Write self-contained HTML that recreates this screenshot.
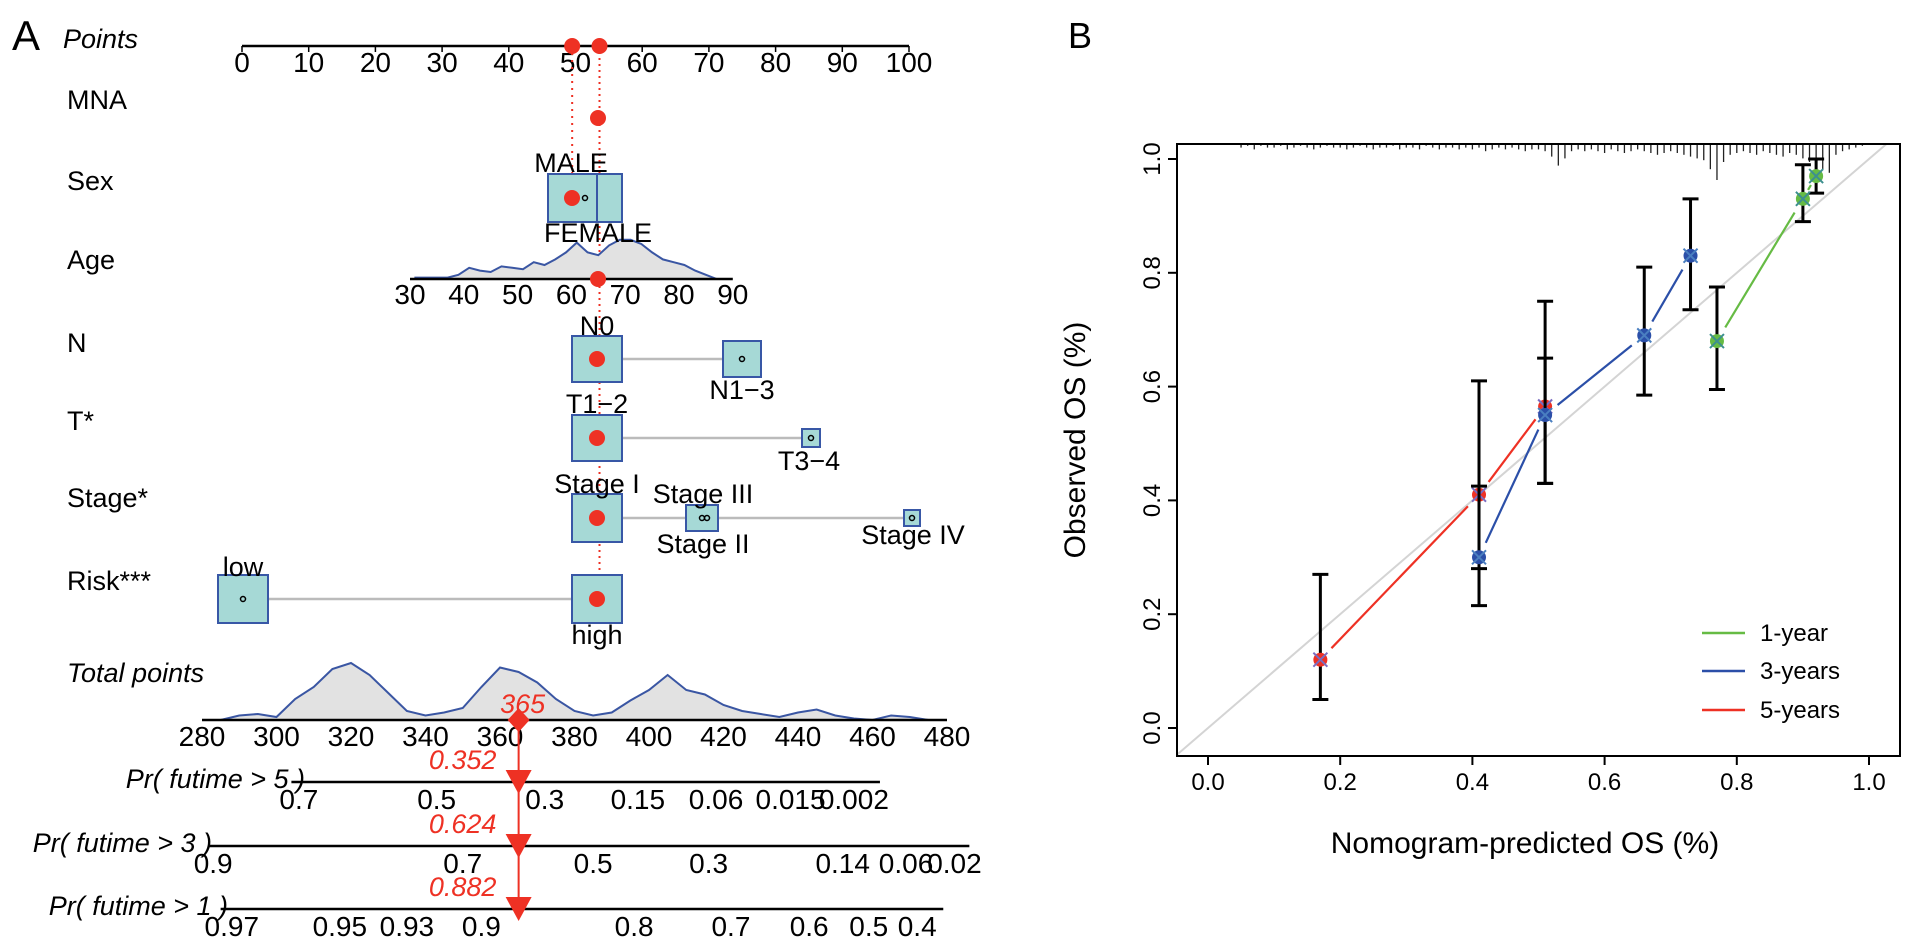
<!DOCTYPE html>
<html><head><meta charset="utf-8">
<style>
html,body{margin:0;padding:0;background:#fff;}
svg{display:block;font-family:"Liberation Sans",sans-serif;}
</style></head>
<body>
<svg id="fig" width="1913" height="948" viewBox="0 0 1913 948" xmlns="http://www.w3.org/2000/svg">
<g id="pa"></g>
<g id="pb"></g>
</svg>
<script>
// ---------- Panel A data ----------
const pointTicks = [0,10,20,30,40,50,60,70,80,90,100];
const ageTicks = [30,40,50,60,70,80,90];
const ageDensX = [31,33,35,37,39,41,43,45,47,49,51,53,55,57,59,61,63,65,67,69,71,73,75,77,79,81,83,85,87];
const ageDensY = [1,1,1,1,3,8,6,5,9,8,7,12,10,14,19,26,19,17,24,28,28,25,19,14,12,10,6,3,0];
const totalTicks = [280,300,320,340,360,380,400,420,440,460,480];
const totalDensX = [285,290,295,300,305,310,315,320,325,330,335,340,345,350,355,360,365,370,375,380,385,390,395,400,405,410,415,420,425,430,435,440,445,450,455,460,465,470,475];
const totalDensY = [0,3,4,2,14,22,34,38,30,18,6,3,5,8,22,35,32,25,14,6,3,5,13,20,30,20,17,10,6,4,2,5,7,3,1,0,3,2,0];
const totalValue = 365;
const pr5Labels = ["0.7","0.5","0.3","0.15","0.06","0.015","0.002"];
const pr5Pts = [306,343,372,397,418,438,455];
const pr3Labels = ["0.9","0.7","0.5","0.3","0.14","0.06","0.02"];
const pr3Pts = [283,350,385,416,452,469,482];
const pr1Labels = ["0.97","0.95","0.93","0.9","0.8","0.7","0.6","0.5","0.4"];
const pr1Pts = [288,317,335,355,396,422,443,459,472];
const probValues = ["0.352","0.624","0.882"];

// ---------- Panel B data ----------
const xTicksB = [0,0.2,0.4,0.6,0.8,1.0];
const yTicksB = [0,0.2,0.4,0.6,0.8,1.0];
const pred1 = [0.77,0.90,0.92], obs1 = [0.68,0.93,0.97], lo1 = [0.595,0.89,0.94], hi1 = [0.775,0.99,1.0];
const pred3 = [0.41,0.51,0.66,0.73], obs3 = [0.30,0.55,0.69,0.83], lo3 = [0.215,0.43,0.585,0.735], hi3 = [0.425,0.65,0.81,0.93];
const pred5 = [0.17,0.41,0.51], obs5 = [0.12,0.41,0.565], lo5 = [0.05,0.28,0.43], hi5 = [0.27,0.61,0.75];
const rugStart = 0.05;
const rugCounts = [2,1,3,1,2,2,1,3,2,1,2,3,2,1,2,2,3,2,1,2,3,2,2,1,3,2,2,3,1,2,3,2,2,3,2,3,2,4,3,2,3,2,3,4,3,3,4,7,12,8,4,3,4,3,4,5,3,4,5,4,3,4,5,6,5,4,5,6,7,8,9,14,20,10,6,5,4,5,6,4,5,6,7,5,6,8,10,12,14,16,6,4,3,2,1];

const NS = "http://www.w3.org/2000/svg";
function mk(parent, tag, attrs, text){
  const e = document.createElementNS(NS, tag);
  for (const k in attrs) e.setAttribute(k, attrs[k]);
  if (text !== undefined) e.textContent = text;
  parent.appendChild(e);
  return e;
}
const A = document.getElementById('pa');
const B = document.getElementById('pb');

const px = p => 242 + p * 6.67;
const ax = a => 410 + (a - 30) * 5.38;
const tx = t => 202 + (t - 280) * 3.725;
const FS = 27;
const TFS = 28;
const teal = "#a6d9d6", boxStroke = "#3857a6", red = "#ee3124";

let e;
e = mk(A,'text',{x:12,y:50,'font-size':42,fill:'#000'},'A');



const rowLabels = [["Points",48,true],["MNA",109,false],["Sex",190,false],["Age",269,false],["N",352,false],["T*",430,false],["Stage*",507,false],["Risk***",590,false],["Total points",682,true]];
rowLabels.forEach(r=>{
  e = mk(A,'text',{x:r[0]==="Points"?63:67,y:r[1],'font-size':FS,'font-style':r[2]?'italic':'normal',fill:'#000'},r[0]);
  
  
});

e = mk(A,'line',{x1:px(0),y1:46,x2:px(100),y2:46,stroke:'#000','stroke-width':2.5});


pointTicks.forEach(t=>{
  mk(A,'line',{x1:px(t),y1:46,x2:px(t),y2:52,stroke:'#000','stroke-width':1.5});
  e = mk(A,'text',{x:px(t),y:72,'font-size':TFS,'text-anchor':'middle'},String(t));
  
  
});

e = mk(A,'line',{x1:px(49.5),y1:46,x2:px(49.5),y2:198,stroke:red,'stroke-width':2,'stroke-dasharray':'2,5'});


e = mk(A,'line',{x1:px(53.6),y1:46,x2:px(53.6),y2:600,stroke:red,'stroke-width':2,'stroke-dasharray':'2,4'});



function box(cx, cy, hw, hh, name){
  const r = mk(A,'rect',{x:cx-hw,y:cy-hh,width:2*hw,height:2*hh,fill:teal,stroke:boxStroke,'stroke-width':2});
  
  
  mk(A,'circle',{cx:cx,cy:cy,r:2.5,fill:'none',stroke:'#000','stroke-width':1.5});
}
function lbl(x,y,t,name){
  const r = mk(A,'text',{x:x,y:y,'font-size':FS,'text-anchor':'middle'},t);
  
  
}
function grey(x1,x2,y){
  const r = mk(A,'line',{x1:x1,y1:y,x2:x2,y2:y,stroke:'#bbb','stroke-width':2.5});
  
  
}
function dot(x,y,r){
  const c = mk(A,'circle',{cx:x,cy:y,r:r||8,fill:red});
  
  
}

box(585,198,37,24,'sex-box');
mk(A,'line',{x1:597,y1:174,x2:597,y2:222,stroke:boxStroke,'stroke-width':2});
lbl(571,172,'MALE','sex-male-label');
let d = `M${ax(ageDensX[0])},279 ` + ageDensX.map((a,i)=>`L${ax(a)},${279-ageDensY[i]*1.4}`).join(' ') + ` L${ax(ageDensX[ageDensX.length-1])},279 Z`;
e = mk(A,'path',{d:d,fill:'#e2e2e2',stroke:'#3a56a3','stroke-width':2});


lbl(598,242,'FEMALE','sex-female-label');
e = mk(A,'line',{x1:ax(30),y1:279,x2:ax(90),y2:279,stroke:'#000','stroke-width':2.5});


ageTicks.forEach(t=>{
  e = mk(A,'text',{x:ax(t),y:304,'font-size':TFS,'text-anchor':'middle'},String(t));
  
  
});
grey(622,723,359); box(597,359,25,23,'n0-box'); box(742,359,19,18,'n13-box');
lbl(597,335,'N0','n0-label'); lbl(742,399,'N1\u22123','n13-label');
grey(622,803,438); box(597,438,25,23,'t12-box'); box(811,438,9,9,'t34-box');
lbl(597,413,'T1\u22122','t12-label'); lbl(809,470,'T3\u22124','t34-label');
grey(622,904,518); box(597,518,25,24,'stage1-box'); box(702,518,16,13,'stage23-box'); box(912,518,8,8,'stage4-box');
mk(A,'circle',{cx:707,cy:518,r:2.5,fill:'none',stroke:'#000','stroke-width':1.5});
lbl(597,493,'Stage I','stage1-label'); lbl(703,503,'Stage III','stage3-label');
lbl(703,553,'Stage II','stage2-label'); lbl(913,544,'Stage IV','stage4-label');
grey(267,572,599); box(243,599,25,24,'risk-low-box'); box(597,599,25,24,'risk-high-box');
lbl(243,576,'low','risk-low-label'); lbl(597,644,'high','risk-high-label');

dot(px(49.5),46,8); dot(px(53.6),46,8); dot(598,118); dot(572,198); dot(598,279);
dot(597,359); dot(597,438); dot(597,518); dot(597,599);

d = `M${tx(totalDensX[0])},720 ` + totalDensX.map((a,i)=>`L${tx(a)},${720-totalDensY[i]*1.5}`).join(' ') + ` L${tx(totalDensX[totalDensX.length-1])},720 Z`;
e = mk(A,'path',{d:d,fill:'#e2e2e2',stroke:'#3a56a3','stroke-width':2});


e = mk(A,'line',{x1:tx(280),y1:720,x2:tx(480),y2:720,stroke:'#000','stroke-width':2.5});


totalTicks.forEach(t=>{
  e = mk(A,'text',{x:tx(t),y:746,'font-size':TFS,'text-anchor':'middle'},String(t));
  
  
});
const tv = tx(totalValue);
e = mk(A,'line',{x1:tv,y1:720,x2:tv,y2:905,stroke:red,'stroke-width':2});


e = mk(A,'path',{d:`M${tv},708 L${tv+11},720 L${tv},732 L${tv-11},720 Z`,fill:red});


e = mk(A,'text',{x:tv+4,y:713,'font-size':FS,'font-style':'italic',fill:red,'text-anchor':'middle'},String(totalValue));



function probAxis(y, labelText, labelRight, labels, pts, lineFrom, lineTo, val, name){
  const t = mk(A,'text',{x:labelRight,y:y+6,'font-size':FS,'font-style':'italic','text-anchor':'end'},labelText);
  
  
  const l = mk(A,'line',{x1:tx(lineFrom),y1:y,x2:tx(lineTo),y2:y,stroke:'#000','stroke-width':2.5});
  
  
  labels.forEach((s,i)=>{
    const tk = mk(A,'text',{x:tx(pts[i]),y:y+27,'font-size':TFS,'text-anchor':'middle'},s);
    
    
  });
  const tri = mk(A,'path',{d:`M${tv-13},${y-12} L${tv+13},${y-12} L${tv},${y+12} Z`,fill:red});
  
  
  const v = mk(A,'text',{x:tv-56,y:y-13,'font-size':FS,'font-style':'italic',fill:red,'text-anchor':'middle'},val);
  
  
}
probAxis(782,'Pr( futime > 5 )',305,pr5Labels,pr5Pts,304,462,probValues[0],'pr5');
probAxis(846,'Pr( futime > 3 )',212,pr3Labels,pr3Pts,282,486,probValues[1],'pr3');
probAxis(909,'Pr( futime > 1 )',228,pr1Labels,pr1Pts,285,479,probValues[2],'pr1');

// ---------- Panel B ----------
const bx = v => 1208 + v * 661;
const by = v => 728 - v * 569;
const L=1177,R=1900,T=144,Bt=756;
e = mk(B,'text',{x:1068,y:48,'font-size':36},'B');


mk(B,'defs',{}).innerHTML = `<clipPath id="clipB"><rect x="${L}" y="${T}" width="${R-L}" height="${Bt-T}"/></clipPath>`;
e = mk(B,'line',{x1:bx(-0.05),y1:by(-0.05),x2:bx(1.1),y2:by(1.1),stroke:'#d4d4d4','stroke-width':2,'clip-path':'url(#clipB)'});


rugCounts.forEach((c,i)=>{
  const x = bx(rugStart + i*0.01);
  const r = mk(B,'line',{x1:x,y1:T,x2:x,y2:T+c*1.8,stroke:'#222','stroke-width':1.3});
  
  
});
function series(pred,obs,lo,hi,col,xcol,name){
  for(let i=0;i<pred.length;i++){
    const x=bx(pred[i]);
    const g = mk(B,'g',{});
    
    
    mk(g,'line',{x1:x,y1:by(lo[i]),x2:x,y2:by(hi[i]),stroke:'#000','stroke-width':3});
    mk(g,'line',{x1:x-8,y1:by(lo[i]),x2:x+8,y2:by(lo[i]),stroke:'#000','stroke-width':3});
    mk(g,'line',{x1:x-8,y1:by(hi[i]),x2:x+8,y2:by(hi[i]),stroke:'#000','stroke-width':3});
  }
  for(let i=0;i<pred.length-1;i++){
    const x1=bx(pred[i]),y1=by(obs[i]),x2=bx(pred[i+1]),y2=by(obs[i+1]);
    const len=Math.hypot(x2-x1,y2-y1), ux=(x2-x1)/len, uy=(y2-y1)/len, g=16;
    const s = mk(B,'line',{x1:x1+ux*g,y1:y1+uy*g,x2:x2-ux*g,y2:y2-uy*g,stroke:col,'stroke-width':2.2});
    
    
  }
  for(let i=0;i<pred.length;i++){
    const x=bx(pred[i]),y=by(obs[i]);
    const p = mk(B,'circle',{cx:x,cy:y,r:7,fill:col});
    
    
    mk(B,'path',{d:`M${x-7},${y-7}L${x+7},${y+7}M${x-7},${y+7}L${x+7},${y-7}`,stroke:xcol,'stroke-width':2});
  }
}
series(pred5,obs5,lo5,hi5,'#ee3124','#7a6cc0','five-year');
series(pred3,obs3,lo3,hi3,'#2b4fa8','#4a7fc0','three-year');
series(pred1,obs1,lo1,hi1,'#66bb44','#3d8f8f','one-year');
e = mk(B,'rect',{x:L,y:T,width:R-L,height:Bt-T,fill:'none',stroke:'#000','stroke-width':2});


xTicksB.forEach(t=>{
  mk(B,'line',{x1:bx(t),y1:Bt,x2:bx(t),y2:Bt+9,stroke:'#000','stroke-width':2});
  const tt = mk(B,'text',{x:bx(t),y:Bt+34,'font-size':24,'text-anchor':'middle'},t.toFixed(1));
  
  
});
yTicksB.forEach(t=>{
  mk(B,'line',{x1:L-9,y1:by(t),x2:L,y2:by(t),stroke:'#000','stroke-width':2});
  const tt = mk(B,'text',{x:L-17,y:by(t),'font-size':24,'text-anchor':'middle',transform:`rotate(-90 ${L-17} ${by(t)})`},t.toFixed(1));
  
  
});
e = mk(B,'text',{x:1525,y:853,'font-size':30,'text-anchor':'middle'},'Nomogram-predicted OS (%)');


e = mk(B,'text',{x:1085,y:440,'font-size':30,'text-anchor':'middle',transform:'rotate(-90 1085 440)'},'Observed OS (%)');


[['1-year','#66bb44',633],['3-years','#2b4fa8',671],['5-years','#ee3124',710]].forEach(l=>{
  const g = mk(B,'g',{});
  
  
  mk(g,'line',{x1:1702,y1:l[2],x2:1745,y2:l[2],stroke:l[1],'stroke-width':2.5});
  mk(g,'text',{x:1760,y:l[2]+8,'font-size':24},l[0]);
});
</script>
</body></html>
